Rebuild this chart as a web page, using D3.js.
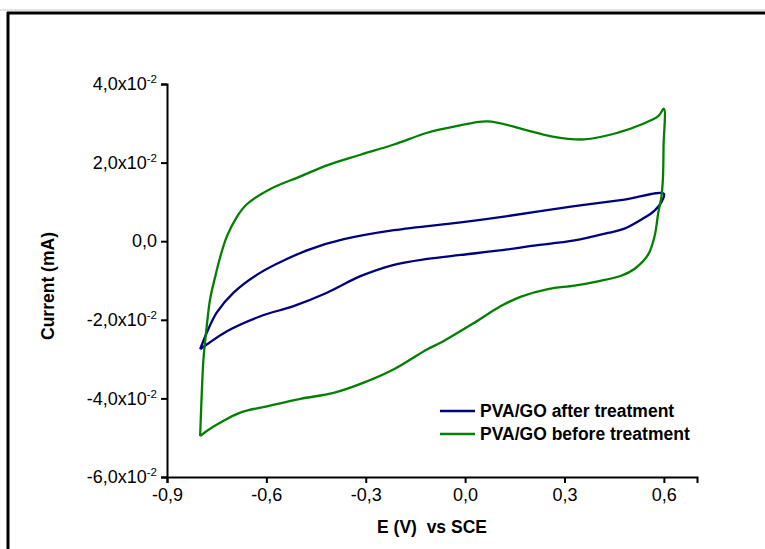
<!DOCTYPE html>
<html>
<head>
<meta charset="utf-8">
<script src="https://d3js.org/d3.v7.min.js"></script>
<style>
body { margin: 0; background: #fff; }
svg { display: block; font-family: Arial, "Liberation Sans", sans-serif; }
.tick text { font-size: 18px; fill: #000; }
.axis path, .axis line { stroke: #000; stroke-width: 2px; }
.title { font-size: 17.5px; font-weight: bold; }
.legend text { font-size: 17.5px; font-weight: bold; }
</style>
</head>
<body>
<svg id="chart" width="765" height="549"></svg>
<script>

// potential (V) and current values, one closed loop each
var afterE = [-0.800, -0.780, -0.750, -0.699, -0.618, -0.540, -0.467, -0.366, -0.215, -0.013, 0.128, 0.330, 0.481, 0.600,
              0.593, 0.572, 0.532, 0.481, 0.431, 0.330, 0.200, 0.128, -0.013, -0.114, -0.215, -0.316, -0.417, -0.518, -0.618, -0.719, -0.780, -0.800];
var afterI = [-0.0275, -0.0233, -0.0182, -0.0131, -0.0080, -0.0046, -0.0020, 0.0005, 0.0028, 0.0048, 0.0064, 0.0089, 0.0106, 0.0121,
              0.0100, 0.0078, 0.0055, 0.0032, 0.0021, 0.0002, -0.0012, -0.0021, -0.0035, -0.0045, -0.0060, -0.0089, -0.0131, -0.0165, -0.0191, -0.0229, -0.0263, -0.0275];

var beforeE = [-0.800, -0.795, -0.790, -0.780, -0.770, -0.755, -0.740, -0.719, -0.689, -0.659, -0.588, -0.497, -0.417, -0.316, -0.215, -0.114, -0.030, 0.068, 0.179, 0.260, 0.360, 0.461, 0.532, 0.583, 0.600,
               0.599, 0.597, 0.592, 0.583, 0.572, 0.552, 0.512, 0.471, 0.401, 0.330, 0.250, 0.169, 0.108, 0.027, -0.073, -0.114, -0.215, -0.306, -0.397, -0.497, -0.598, -0.679, -0.740, -0.780, -0.800];
var beforeI = [-0.0496, -0.0386, -0.0301, -0.0216, -0.0148, -0.0092, -0.0042, 0.0013, 0.0062, 0.0094, 0.0133, 0.0165, 0.0193, 0.0220, 0.0246, 0.0276, 0.0292, 0.0305, 0.0284, 0.0267, 0.0259, 0.0276, 0.0297, 0.0318, 0.0337,
               0.0242, 0.0157, 0.0110, 0.0072, 0.0013, -0.0035, -0.0070, -0.0088, -0.0102, -0.0113, -0.0122, -0.0141, -0.0165, -0.0208, -0.0258, -0.0275, -0.0326, -0.0360, -0.0386, -0.0401, -0.0420, -0.0436, -0.0462, -0.0483, -0.0496];

var xTicks = [-0.9, -0.6, -0.3, 0.0, 0.3, 0.6];
var yTicks = [0.04, 0.02, 0.0, -0.02, -0.04, -0.06];
var seriesNames = ["PVA/GO after treatment", "PVA/GO before treatment"];
var seriesColors = ["#000080", "#008000"];

var svg = d3.select("#chart");

// frame lines (top and left only, as in the scanned figure)
svg.append("line").attr("x1", 0).attr("y1", 10).attr("x2", 765).attr("y2", 10)
  .attr("style", "stroke:#c8c8c8;stroke-width:1");
svg.append("line").attr("x1", 7).attr("y1", 13).attr("x2", 765).attr("y2", 13)
  .attr("style", "stroke:#000;stroke-width:3");
svg.append("line").attr("x1", 8).attr("y1", 12).attr("x2", 8).attr("y2", 549)
  .attr("style", "stroke:#000;stroke-width:3");

var x = d3.scaleLinear().domain([-0.9, 0.7]).range([167, 697]);
var y = d3.scaleLinear().domain([-0.06, 0.04]).range([477, 84]);

var comma = function(v, digits) { return v.toFixed(digits).replace(".", ","); };

svg.append("g").attr("class", "axis")
  .attr("transform", "translate(0,477)")
  .call(d3.axisBottom(x).tickValues(xTicks).tickSizeOuter(0).tickSize(6).tickPadding(5)
    .tickFormat(function(d) { return comma(d, 1); }));

var yAxis = svg.append("g").attr("class", "axis")
  .attr("transform", "translate(167,0)")
  .call(d3.axisLeft(y).tickValues(yTicks).tickSizeOuter(0).tickSize(6).tickPadding(4)
    .tickFormat(function() { return ""; }));

// y labels with a raised exponent
yAxis.selectAll(".tick text").each(function(d) {
  var t = d3.select(this);
  t.text(null);
  if (Math.abs(d) < 1e-9) {
    t.append("tspan").text("0,0");
  } else {
    t.append("tspan").text(comma(d * 100, 1) + "x10");
    t.append("tspan").attr("dy", "-0.6em").attr("font-size", "11.5px").text("-2");
  }
});

var line = d3.line()
  .x(function(d) { return x(d[0]); })
  .y(function(d) { return y(d[1]); })
  .curve(d3.curveCatmullRom.alpha(0.5));

var series = [d3.zip(afterE, afterI), d3.zip(beforeE, beforeI)];

svg.selectAll(".cv").data(series).enter()
  .append("path")
  .attr("class", "cv")
  .attr("d", line)
  .attr("fill", "none")
  .attr("stroke", function(d, i) { return seriesColors[i]; })
  .attr("stroke-width", 2.3)
  .attr("stroke-linejoin", "round");

// axis titles
svg.append("text").attr("class", "title")
  .attr("x", 432).attr("y", 533).attr("text-anchor", "middle")
  .attr("xml:space", "preserve")
  .text("E (V)  vs SCE");

svg.append("text").attr("class", "title")
  .attr("transform", "translate(54,286) rotate(-90)")
  .attr("text-anchor", "middle")
  .text("Current (mA)");

// legend
var legend = svg.append("g").attr("class", "legend");
seriesNames.forEach(function(name, i) {
  var ly = 411 + i * 23;
  legend.append("line").attr("x1", 440).attr("x2", 475).attr("y1", ly).attr("y2", ly)
    .attr("stroke", seriesColors[i]).attr("stroke-width", 2.5);
  legend.append("text").attr("x", 480).attr("y", ly + 6).text(name);
});

</script>
</body>
</html>
